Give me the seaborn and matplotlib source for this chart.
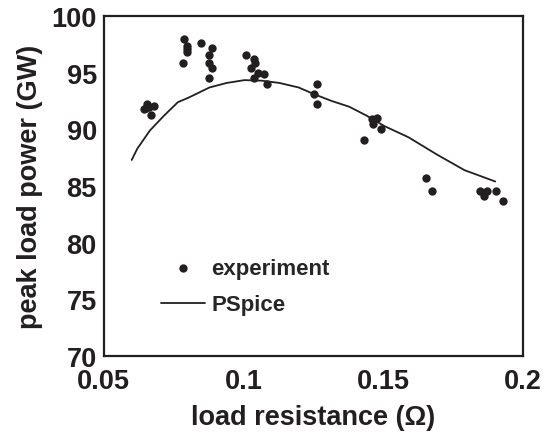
import matplotlib
matplotlib.use('Agg')
import matplotlib.pyplot as plt
import seaborn as sns

# experiment points (load resistance in ohm, peak power in GW)
exp_r = [0.0643, 0.0650, 0.0655, 0.0660, 0.0668, 0.0678,
         0.0788, 0.0797, 0.0797, 0.0797, 0.0785,
         0.0847, 0.0878, 0.0886, 0.0878, 0.0886, 0.0875,
         0.1009, 0.1038, 0.1040, 0.1028, 0.1050, 0.1072, 0.1038, 0.1084,
         0.1253, 0.1263, 0.1263,
         0.1432, 0.1460, 0.1476, 0.1463, 0.1493,
         0.1651, 0.1675,
         0.1847, 0.1860, 0.1860, 0.1872, 0.1904, 0.1926]
exp_p = [91.8, 91.9, 92.2, 92.0, 91.3, 92.1,
         98.0, 97.4, 97.1, 96.8, 95.9,
         97.6, 96.6, 97.2, 95.9, 95.4, 94.5,
         96.6, 96.2, 95.9, 95.4, 95.0, 94.9, 94.5, 94.0,
         93.1, 94.0, 92.2,
         89.1, 90.9, 91.0, 90.5, 90.0,
         85.7, 84.6,
         84.6, 84.1, 84.4, 84.6, 84.6, 83.7]

# PSpice simulation curve
sim_r = [0.060, 0.062, 0.0665, 0.0715, 0.0765, 0.0803, 0.0878, 0.094, 0.1003,
         0.1066, 0.1128, 0.1197, 0.1253, 0.1316, 0.1378, 0.1441, 0.1503,
         0.159, 0.169, 0.179, 0.190]
sim_p = [87.3, 88.3, 89.9, 91.2, 92.4, 92.8, 93.7, 94.1, 94.35,
         94.3, 94.1, 93.7, 93.1, 92.5, 92.0, 91.2, 90.3,
         89.3, 87.8, 86.4, 85.4]

sns.set_style('white')
plt.rcParams['font.family'] = ['Liberation Sans', 'DejaVu Sans']
plt.rcParams['font.weight'] = 'bold'

fig = plt.figure(figsize=(5.49, 4.39), dpi=100)
ax = fig.add_axes([0.189, 0.187, 0.764, 0.774])

ink = '#231f20'
sns.scatterplot(x=exp_r, y=exp_p, ax=ax, color=ink, s=36, linewidth=0,
                label='experiment')
sns.lineplot(x=sim_r, y=sim_p, ax=ax, color=ink, linewidth=1.3,
             label='PSpice', sort=False)

ax.set_xlim(0.05, 0.2)
ax.set_ylim(70, 100)
ax.set_xticks([0.05, 0.1, 0.15, 0.2])
ax.set_xticklabels(['0.05', '0.1', '0.15', '0.2'])
ax.set_yticks([70, 75, 80, 85, 90, 95, 100])
ax.tick_params(direction='in', length=5, width=1.3, colors=ink,
               labelsize=19.5)
ax.tick_params(axis='x', pad=9)
ax.tick_params(axis='y', pad=5)
for lab in ax.get_xticklabels() + ax.get_yticklabels():
    lab.set_fontweight('bold')
for sp in ax.spines.values():
    sp.set_linewidth(1.6)
    sp.set_color(ink)

ax.set_xlabel('load resistance (\u03a9)', fontsize=19.5, fontweight='bold',
              color=ink, labelpad=7)
ax.set_ylabel('peak load power (GW)', fontsize=19.5, fontweight='bold',
              color=ink, labelpad=6)

ax.legend(loc='upper left', bbox_to_anchor=(0.110, 0.321), frameon=False,
          borderpad=0, handlelength=2.0, handletextpad=0.25,
          labelspacing=0.69, prop={'weight': 'bold', 'size': 16})

fig.savefig('out.png', dpi=100)
